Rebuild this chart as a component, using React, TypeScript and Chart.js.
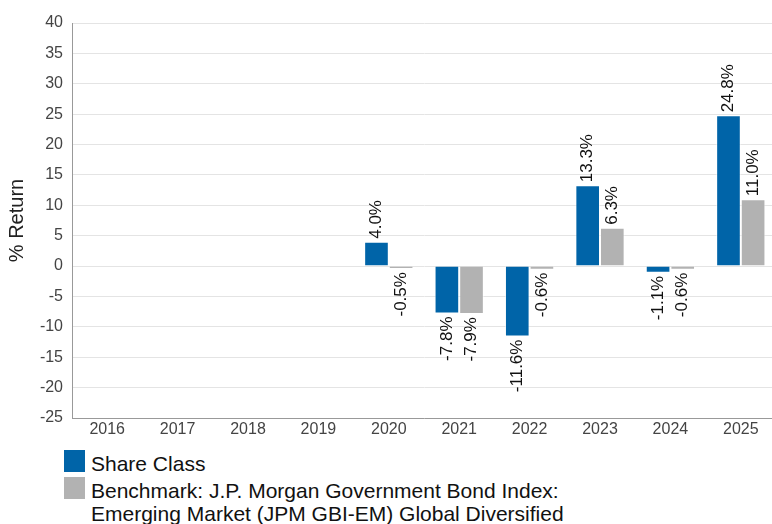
import React, { useEffect, useRef } from "react";
import { Chart, registerables } from "chart.js";

Chart.register(...registerables);

const categories = ["2016", "2017", "2018", "2019", "2020", "2021", "2022", "2023", "2024", "2025"];
const shareClass: (number | null)[] = [null, null, null, null, 4.0, -7.8, -11.6, 13.3, -1.1, 24.8];
const benchmark: (number | null)[] = [null, null, null, null, -0.5, -7.9, -0.6, 6.3, -0.6, 11.0];
const shareLabel = "Share Class";
const benchLabel = "Benchmark: J.P. Morgan Government Bond Index: Emerging Market (JPM GBI-EM) Global Diversified";
const yTitle = "% Return";
const BLUE = "#0064a8";
const GREY = "#b2b2b2";
const FONT = "Arial, 'Liberation Sans', sans-serif";

const barLabels = {
  id: "barLabels",
  afterDatasetsDraw(chart: any) {
    const ctx = chart.ctx;
    ctx.save();
    ctx.font = `17px ${FONT}`;
    ctx.fillStyle = "#111";
    ctx.textBaseline = "middle";
    chart.data.datasets.forEach((ds: any, di: number) => {
      const meta = chart.getDatasetMeta(di);
      meta.data.forEach((el: any, i: number) => {
        const v = ds.data[i];
        if (v === null || v === undefined) return;
        const text = v.toFixed(1) + "%";
        ctx.save();
        if (v >= 0) {
          ctx.translate(el.x, el.y - 3);
          ctx.rotate(-Math.PI / 2);
          ctx.textAlign = "left";
        } else {
          ctx.translate(el.x, el.y + 3);
          ctx.rotate(-Math.PI / 2);
          ctx.textAlign = "right";
        }
        ctx.fillText(text, 0, 0);
        ctx.restore();
      });
    });
    ctx.restore();
  },
};

export default function App() {
  const ref = useRef<HTMLCanvasElement | null>(null);
  useEffect(() => {
    if (!ref.current) return;
    const chart = new Chart(ref.current, {
      type: "bar",
      data: {
        labels: categories,
        datasets: [
          { label: shareLabel, data: shareClass, backgroundColor: BLUE, borderColor: "rgba(255,255,255,0.6)", borderWidth: 1 },
          { label: benchLabel, data: benchmark, backgroundColor: GREY, borderColor: "rgba(255,255,255,0.6)", borderWidth: 1 },
        ],
      },
      options: {
        responsive: false,
        animation: false,
        layout: { padding: { top: 23, right: 0, bottom: 0, left: 0 } },
        datasets: { bar: { categoryPercentage: 0.7, barPercentage: 1.0 } },
        plugins: { legend: { display: false }, tooltip: { enabled: false } },
        scales: {
          x: {
            grid: { display: false, drawTicks: false },
            border: { display: true, color: "#999" },
            ticks: { color: "#444", font: { family: FONT, size: 16 }, padding: 2 },
            afterFit: (s: any) => { s.height = 22; },
          },
          y: {
            min: -25,
            max: 40,
            ticks: { stepSize: 5, color: "#444", font: { family: FONT, size: 16 }, padding: 9 },
            grid: { color: "#e4e4e4", drawTicks: false },
            border: { display: true, color: "#999" },
            title: { display: true, text: yTitle, color: "#222", font: { family: FONT, size: 20 }, padding: { top: 5, bottom: 0 } },
            afterFit: (s: any) => { s.width = 72; },
          },
        },
      },
      plugins: [barLabels],
    } as any);
    return () => chart.destroy();
  }, []);

  const item = (color: string, text: string, width?: number) => (
    <div style={{ display: "flex", alignItems: "flex-start", marginBottom: 4 }}>
      <div style={{ width: 21, height: 22, background: color, marginTop: -2, flex: "none" }} />
      <div style={{ marginLeft: 6, lineHeight: "23px", width: width }}>{text}</div>
    </div>
  );

  return (
    <div style={{ position: "fixed", left: 0, top: 0, width: 772, height: 524, overflow: "hidden", background: "#fff" }}>
      <canvas ref={ref} width={776} height={440} style={{ position: "absolute", left: 0, top: 0 }} />
      <div style={{ position: "absolute", left: 64, top: 452, fontFamily: FONT, fontSize: 21, color: "#111" }}>
        {item(BLUE, shareLabel)}
        {item(GREY, benchLabel, 480)}
      </div>
    </div>
  );
}
